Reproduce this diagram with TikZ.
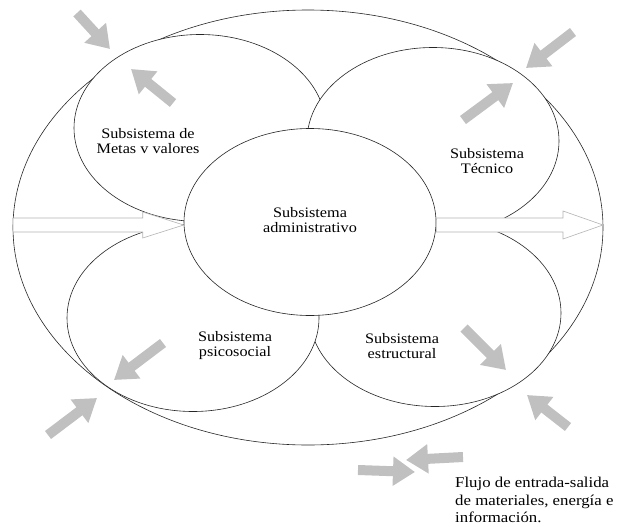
\documentclass[tikz,border=0pt]{standalone}
\usepackage{fontspec}
\setmainfont{Liberation Serif}[FakeStretch=1.12]
\usetikzlibrary{arrows.meta,calc,shapes.geometric}
\definecolor{flowgray}{HTML}{C0C0C0}
\definecolor{hollowgray}{HTML}{B4B4B4}

\begin{document}
\begin{tikzpicture}[x=1pt, y=-1pt,
  sub/.style={ellipse, draw=black!85, line width=0.6pt, fill=white, minimum width=252pt, minimum height=187pt, inner sep=0pt},
  lbl/.style={align=center, inner sep=0pt, font=\fontsize{14.5}{15}\selectfont},
  flow/.style={line width=10pt, draw=flowgray, -{Triangle[length=22pt, width=28pt]}},
  hollow/.style={draw=hollowgray, line width=0.6pt, fill=white}
]
  \useasboundingbox (0,0) rectangle (618,527);

  % system and subsystems
  \node[sub, minimum width=590pt, minimum height=435pt] (outer) at (308,227.5) {};
  \node[sub] (metas) at (200,128) {};
  \node[sub] (tecnico) at (433,141) {};
  \node[sub] (estruct) at (435,313) {};
  \node[sub] (psico) at (193,318) {};
  \node[sub] (admin) at (310,222) {};

  % input and output
  \coordinate (inL) at (13,225);
  \coordinate (outR) at (603,225);
  \coordinate (tipL) at (admin.west |- inL);
  \coordinate (tailR) at (admin.east |- outR);
  \draw[hollow] ($(inL)+(0,-7)$) -- ($(tipL)+(-41,-7)$) -- ++(0,-6) -- (tipL)
    -- ($(tipL)+(-41,13)$) -- ++(0,-6) -- ($(inL)+(0,7)$) -- cycle;
  \draw[hollow] ($(tailR)+(0,-7)$) -- ($(outR)+(-40,-7)$) -- ++(0,-7) -- (outR)
    -- ($(outR)+(-40,14)$) -- ++(0,-7) -- ($(tailR)+(0,7)$) -- cycle;

  % exchange arrows
  \foreach \n/\tx/\ty/\hx/\hy in {1/77/13/110/49, 2/173/103/131/69, 3/573/32/526/68,
      4/463/120/513/83, 5/163/343/114/380, 6/48/435/97/398, 7/464/328/506/370,
      8/568/427/527/395, 9/463/457/406/460, 10/358/470/415/472} {
    \coordinate (t\n) at (\tx,\ty);
    \coordinate (h\n) at (\hx,\hy);
    \draw[flow] (t\n) -- (h\n);
  }

  % labels
  \node[lbl] (metasT) at (148,141) {Subsistema de\\Metas v valores};
  \node[lbl] (tecnicoT) at (487,161) {Subsistema\\Técnico};
  \node[lbl] (adminT) at (310,220) {Subsistema\\administrativo};
  \node[lbl] (psicoT) at (235,346) {Subsistema\\psicosocial};
  \node[lbl] (estructT) at (402,346) {Subsistema\\estructural};
  \node[lbl, align=left, anchor=north west, font=\fontsize{15}{17.5}\selectfont] (legend) at (455,477)
    {Flujo de entrada-salida\\de materiales, energía e\\información.};
\end{tikzpicture}
\end{document}
